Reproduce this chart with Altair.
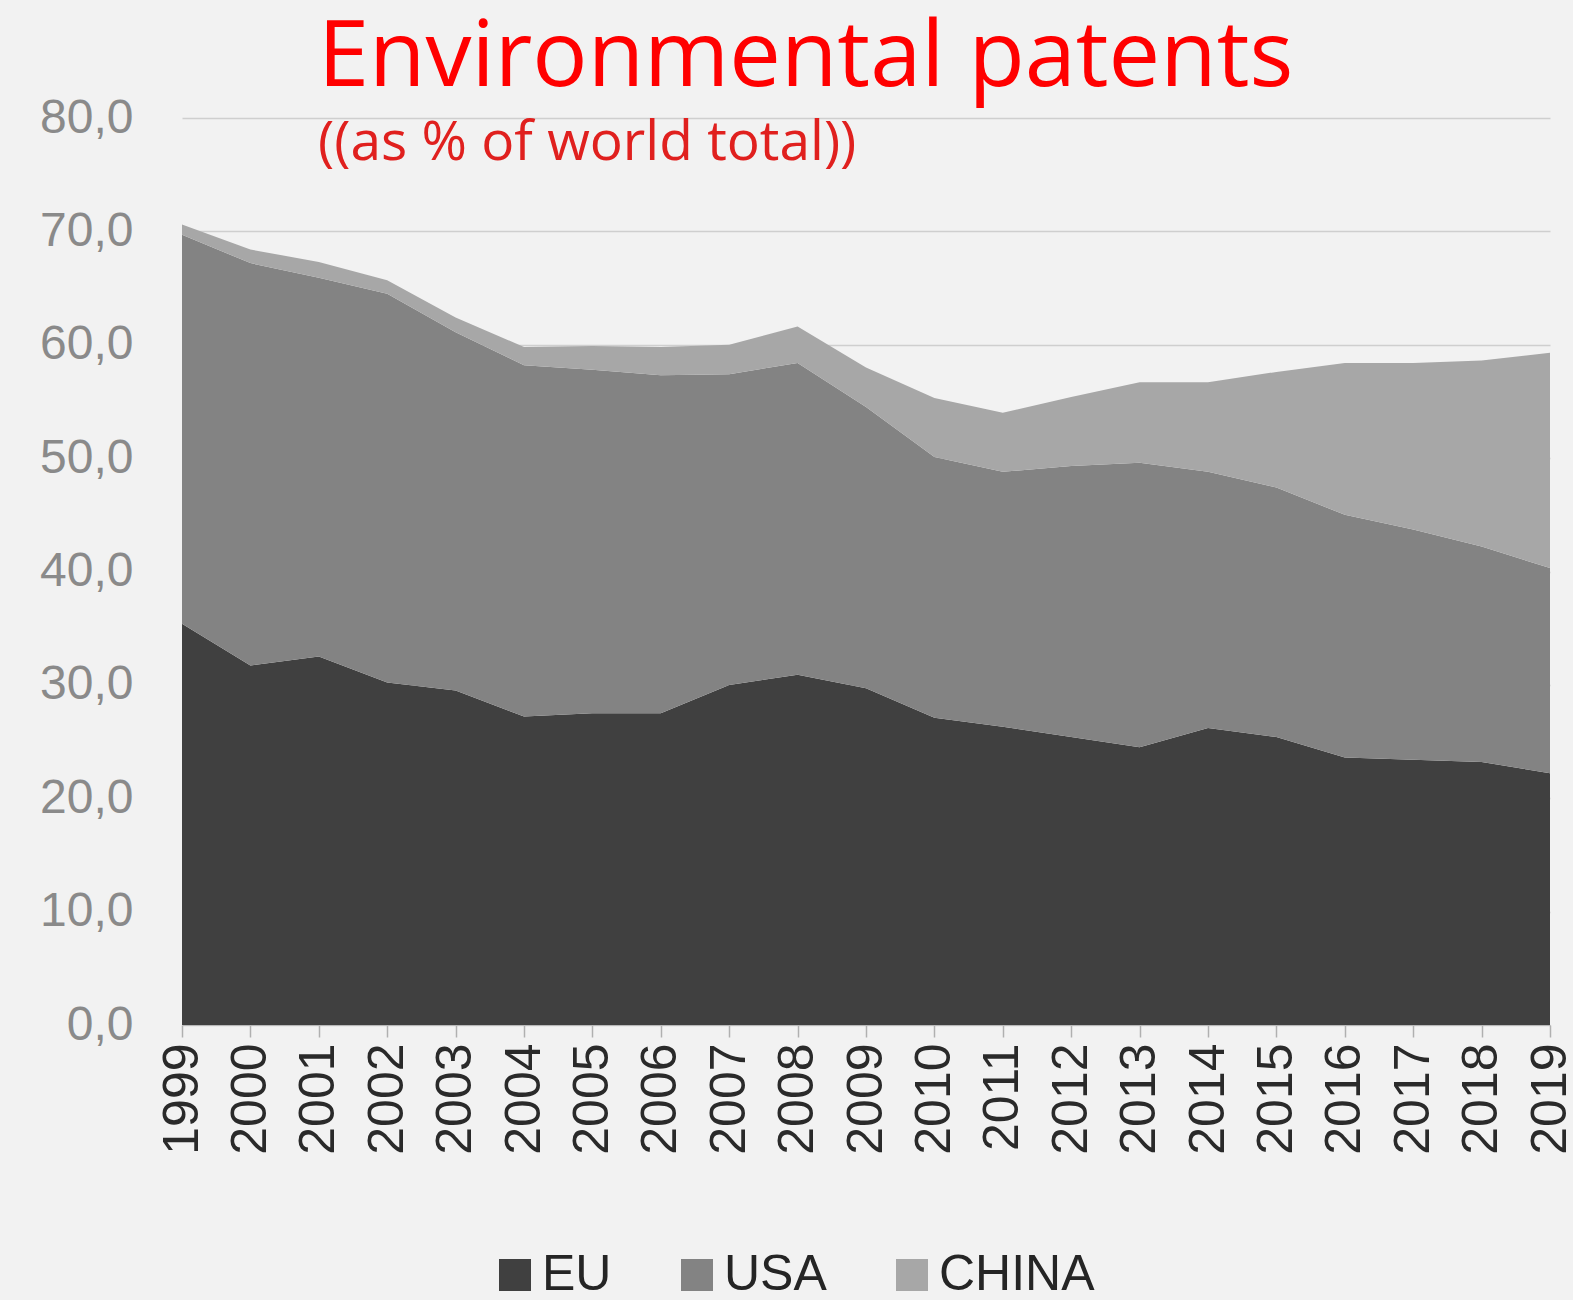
import altair as alt
import pandas as pd

years = list(range(1999, 2020))
eu = [35.4, 31.7, 32.5, 30.2, 29.5, 27.2, 27.5, 27.5, 30.0, 30.9, 29.7,
      27.1, 26.3, 25.4, 24.5, 26.2, 25.4, 23.6, 23.4, 23.2, 22.2]
usa = [34.3, 35.5, 33.4, 34.3, 31.6, 31.0, 30.3, 29.8, 27.4, 27.5, 24.8,
       23.0, 22.5, 23.9, 25.1, 22.6, 22.0, 21.4, 20.3, 19.0, 18.1]
china = [0.9, 1.2, 1.4, 1.2, 1.3, 1.6, 2.1, 2.5, 2.6, 3.2, 3.5,
         5.2, 5.2, 6.1, 7.1, 7.9, 10.2, 13.4, 14.7, 16.4, 19.0]
series = ["EU", "USA", "CHINA"]
colors = ["#404040", "#838383", "#a7a7a7"]

rows = []
for i, y in enumerate(years):
    for k, (name, vals) in enumerate(zip(series, [eu, usa, china])):
        rows.append({"year": y, "region": name, "value": vals[i], "ord": k})
df = pd.DataFrame(rows)

chart = alt.Chart(df).mark_area(opacity=1).encode(
    x=alt.X("year:Q",
            scale=alt.Scale(domain=[1999, 2019], nice=False, zero=False),
            axis=alt.Axis(values=years, format="d", labelAngle=270, title=None,
                          labelFont="Liberation Sans", labelFontSize=50,
                          labelColor="#2a2a2a", labelPadding=6,
                          tickColor="#b0b0b0", tickSize=12, tickWidth=1.5,
                          domainColor="#b8b8b8", grid=False, labelFlush=False)),
    y=alt.Y("value:Q", stack="zero",
            scale=alt.Scale(domain=[0, 80], nice=False),
            axis=alt.Axis(values=[0, 10, 20, 30, 40, 50, 60, 70, 80], title=None,
                          labelExpr="replace(format(datum.value, '.1f'), '.', ',')",
                          labelFont="Liberation Sans", labelFontSize=48,
                          labelColor="#8a8a8a", labelPadding=49,
                          domain=False, ticks=False,
                          gridColor="#cfcfcf", gridWidth=1.5)),
    color=alt.Color("region:N",
                    scale=alt.Scale(domain=series, range=colors),
                    legend=alt.Legend(orient="none", legendX=308, legendY=1132,
                                      direction="horizontal", title=None,
                                      symbolType="square", symbolSize=1024,
                                      symbolStrokeWidth=0, symbolOpacity=1,
                                      labelFont="Liberation Sans", labelFontSize=50,
                                      labelColor="#252525", labelOffset=2,
                                      columnPadding=60)),
    order=alt.Order("ord:Q"),
).properties(
    width=1368,
    height=907,
    padding={"left": 182, "top": 118, "right": 23, "bottom": 275},
    autosize=alt.AutoSizeParams(type="none"),
    title=alt.TitleParams(
        text="Environmental patents",
        subtitle="((as % of world total))",
        anchor="start", frame="group", dx=136, offset=-78,
        font="Open Sans", fontSize=92, fontWeight="normal", color="#ff0000",
        subtitleFont="Open Sans", subtitleFontSize=55, subtitleColor="#e0201e",
        subtitlePadding=12,
    ),
).configure(background="#f2f2f2").configure_view(stroke=None)

chart.save("out.html", embed_options={"renderer": "svg", "actions": False})
